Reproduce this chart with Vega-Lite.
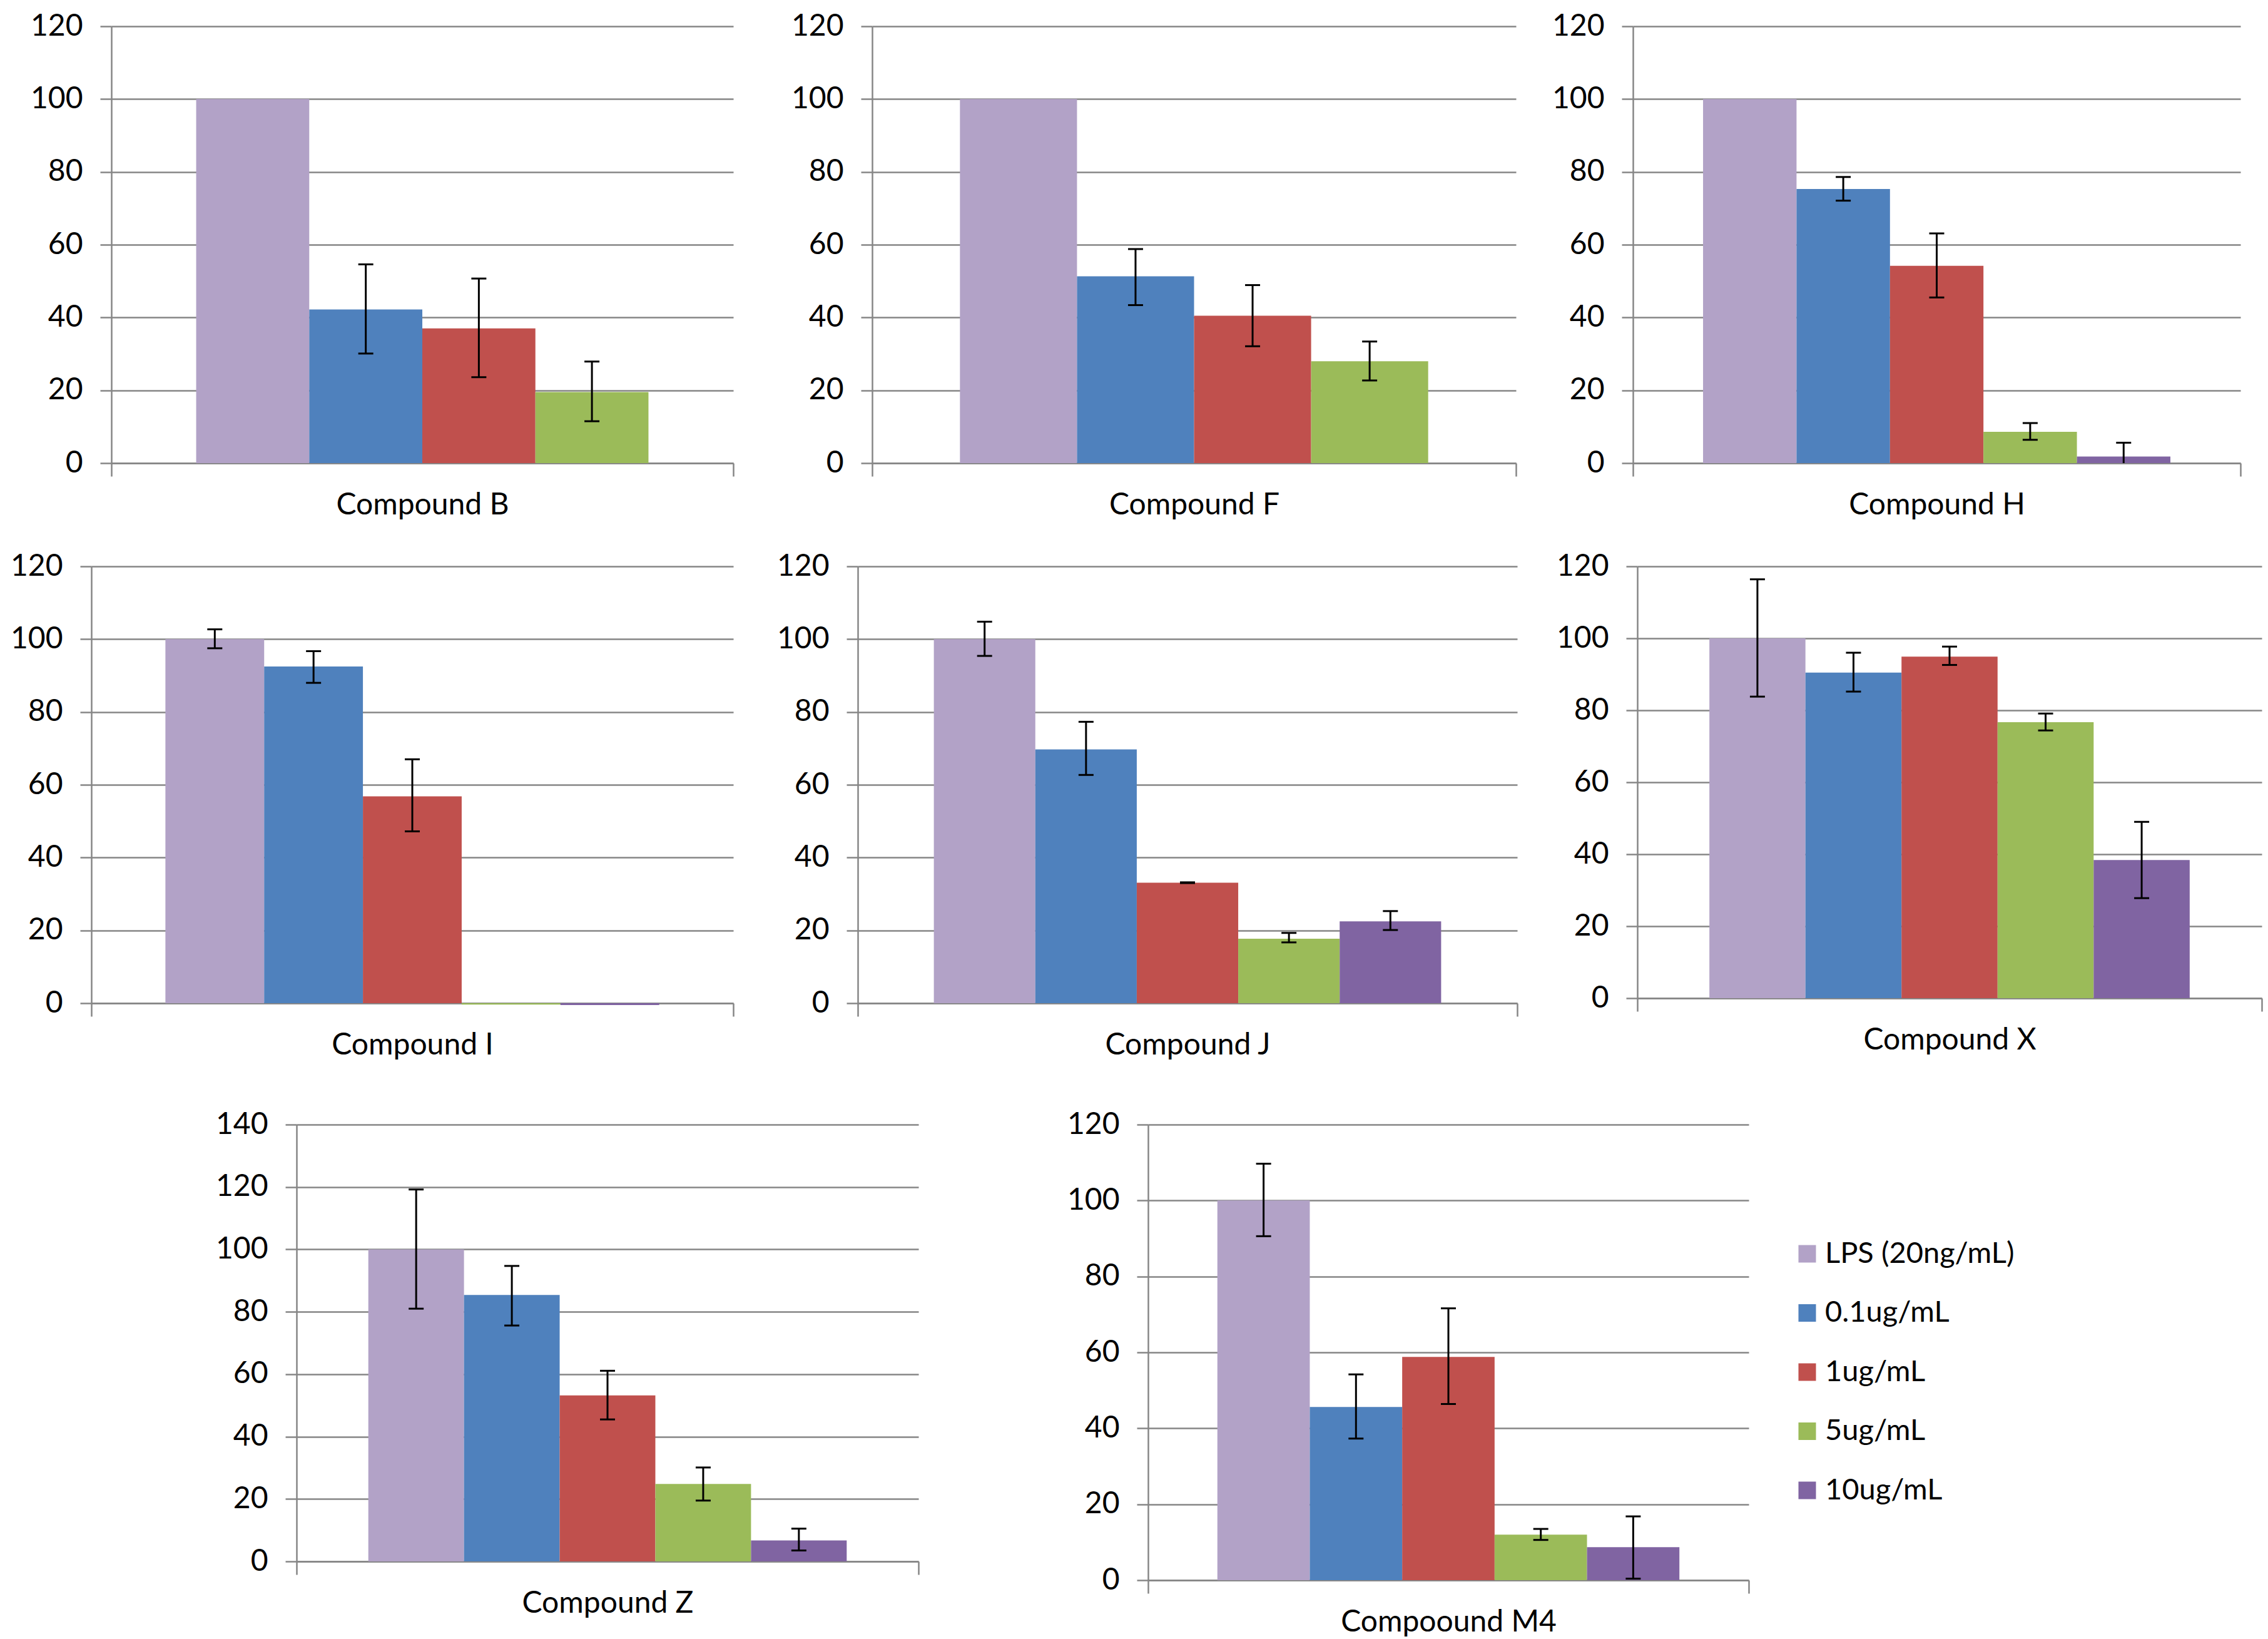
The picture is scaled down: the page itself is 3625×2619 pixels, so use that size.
{
  "$schema": "https://vega.github.io/schema/vega-lite/v6.json",
  "background": "white",
  "padding": {"left": 0, "top": 18, "right": 0, "bottom": 0},
  "config": {
    "view": {"stroke": null},
    "font": "Lato",
    "axis": {"labelFont": "Lato", "labelFontSize": 48, "labelColor": "#000000", "domainColor": "#868686", "tickColor": "#868686", "gridColor": "#868686", "domainWidth": 2.5, "tickWidth": 2.5, "gridWidth": 2.5, "ticks": true, "labelLimit": 1000},
    "axisY": {"tickSize": 18, "labelPadding": 28, "grid": true},
    "axisX": {"tickSize": 21, "labelPadding": 22, "grid": false, "tickBand": "extent", "labelAngle": 0},
    "legend": {"labelFont": "Lato", "labelFontSize": 47, "labelColor": "#000000", "symbolType": "square", "symbolSize": 784, "symbolStrokeWidth": 0, "labelOffset": 5, "rowPadding": 46.5, "padding": 0, "labelLimit": 1000},
    "concat": {"spacing": 0}
  },
  "datasets": {
    "d": [
      {"compound": "Compound B", "series": "LPS (20ng/mL)", "value": 100, "lo": null, "hi": null},
      {"compound": "Compound B", "series": "0.1ug/mL", "value": 42.2, "lo": 30.1, "hi": 54.6},
      {"compound": "Compound B", "series": "1ug/mL", "value": 37.0, "lo": 23.6, "hi": 50.7},
      {"compound": "Compound B", "series": "5ug/mL", "value": 19.5, "lo": 11.5, "hi": 27.9},
      {"compound": "Compound F", "series": "LPS (20ng/mL)", "value": 100, "lo": null, "hi": null},
      {"compound": "Compound F", "series": "0.1ug/mL", "value": 51.3, "lo": 43.4, "hi": 58.8},
      {"compound": "Compound F", "series": "1ug/mL", "value": 40.5, "lo": 32.1, "hi": 48.9},
      {"compound": "Compound F", "series": "5ug/mL", "value": 28.0, "lo": 22.7, "hi": 33.4},
      {"compound": "Compound H", "series": "LPS (20ng/mL)", "value": 100, "lo": null, "hi": null},
      {"compound": "Compound H", "series": "0.1ug/mL", "value": 75.3, "lo": 72.1, "hi": 78.6},
      {"compound": "Compound H", "series": "1ug/mL", "value": 54.2, "lo": 45.5, "hi": 63.1},
      {"compound": "Compound H", "series": "5ug/mL", "value": 8.6, "lo": 6.4, "hi": 11.0},
      {"compound": "Compound H", "series": "10ug/mL", "value": 1.8, "lo": -2.0, "hi": 5.6},
      {"compound": "Compound I", "series": "LPS (20ng/mL)", "value": 100, "lo": 97.5, "hi": 102.7},
      {"compound": "Compound I", "series": "0.1ug/mL", "value": 92.5, "lo": 88.0, "hi": 96.7},
      {"compound": "Compound I", "series": "1ug/mL", "value": 56.8, "lo": 47.2, "hi": 67.0},
      {"compound": "Compound I", "series": "5ug/mL", "value": -0.4, "lo": null, "hi": null},
      {"compound": "Compound I", "series": "10ug/mL", "value": -0.5, "lo": null, "hi": null},
      {"compound": "Compound J", "series": "LPS (20ng/mL)", "value": 100, "lo": 95.4, "hi": 104.8},
      {"compound": "Compound J", "series": "0.1ug/mL", "value": 69.7, "lo": 62.7, "hi": 77.3},
      {"compound": "Compound J", "series": "1ug/mL", "value": 33.1, "lo": 33.0, "hi": 33.2},
      {"compound": "Compound J", "series": "5ug/mL", "value": 17.7, "lo": 16.7, "hi": 19.3},
      {"compound": "Compound J", "series": "10ug/mL", "value": 22.5, "lo": 20.1, "hi": 25.3},
      {"compound": "Compound X", "series": "LPS (20ng/mL)", "value": 100, "lo": 83.8, "hi": 116.4},
      {"compound": "Compound X", "series": "0.1ug/mL", "value": 90.5, "lo": 85.2, "hi": 96.0},
      {"compound": "Compound X", "series": "1ug/mL", "value": 94.9, "lo": 92.6, "hi": 97.7},
      {"compound": "Compound X", "series": "5ug/mL", "value": 76.7, "lo": 74.4, "hi": 79.1},
      {"compound": "Compound X", "series": "10ug/mL", "value": 38.4, "lo": 27.8, "hi": 49.0},
      {"compound": "Compound Z", "series": "LPS (20ng/mL)", "value": 100, "lo": 81.0, "hi": 119.2},
      {"compound": "Compound Z", "series": "0.1ug/mL", "value": 85.4, "lo": 75.6, "hi": 94.7},
      {"compound": "Compound Z", "series": "1ug/mL", "value": 53.2, "lo": 45.5, "hi": 61.1},
      {"compound": "Compound Z", "series": "5ug/mL", "value": 24.8, "lo": 19.5, "hi": 30.1},
      {"compound": "Compound Z", "series": "10ug/mL", "value": 6.7, "lo": 3.5, "hi": 10.5},
      {"compound": "Compoound M4", "series": "LPS (20ng/mL)", "value": 100, "lo": 90.6, "hi": 109.7},
      {"compound": "Compoound M4", "series": "0.1ug/mL", "value": 45.6, "lo": 37.3, "hi": 54.2},
      {"compound": "Compoound M4", "series": "1ug/mL", "value": 58.8, "lo": 46.4, "hi": 71.6},
      {"compound": "Compoound M4", "series": "5ug/mL", "value": 12.0, "lo": 10.6, "hi": 13.5},
      {"compound": "Compoound M4", "series": "10ug/mL", "value": 8.7, "lo": 0.4, "hi": 16.8}
    ],
    "none": []
  },
  "data": {"name": "d"},
  "columns": 1,
  "align": "none",
  "resolve": {"scale": {"color": "independent", "xOffset": "independent", "x": "independent", "y": "independent"}},
  "spacing": 79,
  "concat": [
    {
      "columns": 1,
      "align": "none",
      "spacing": 50,
      "resolve": {"scale": {"color": "independent", "xOffset": "independent", "x": "independent", "y": "independent"}},
      "concat": [
        {
          "spacing": 0,
          "resolve": {"scale": {"color": "independent", "xOffset": "independent", "x": "independent", "y": "independent"}},
          "hconcat": [
            {"width": 1, "height": 1, "data": {"name": "none"}, "mark": {"type": "point", "opacity": 0}},
            {
              "width": 994, "height": 698,
              "transform": [{"filter": "datum.compound === 'Compound B'"}],
              "encoding": {
                "x": {"field": "compound", "type": "nominal", "title": null, "scale": {"paddingInner": 0, "paddingOuter": 0}},
                "xOffset": {"field": "series", "type": "nominal", "scale": {"domain": ["LPS (20ng/mL)", "0.1ug/mL", "1ug/mL", "5ug/mL"], "paddingInner": 0, "paddingOuter": 0.75}}
              },
              "layer": [
                {"mark": {"type": "bar"}, "encoding": {
                  "y": {"field": "value", "type": "quantitative", "title": null, "scale": {"domain": [0, 120], "nice": false}, "axis": {"values": [0, 20, 40, 60, 80, 100, 120], "minExtent": 177, "maxExtent": 177}},
                  "color": {"field": "series", "type": "nominal", "legend": null, "scale": {"domain": ["LPS (20ng/mL)", "0.1ug/mL", "1ug/mL", "5ug/mL", "10ug/mL"], "range": ["#B2A2C7", "#4F81BD", "#C0504D", "#9BBB59", "#8064A2"]}}}},
                {"transform": [{"filter": "isValid(datum.lo)"}], "mark": {"type": "rule", "clip": true, "color": "#000000", "strokeWidth": 3}, "encoding": {"y": {"field": "lo", "type": "quantitative"}, "y2": {"field": "hi"}}},
                {"transform": [{"filter": "isValid(datum.lo)"}], "mark": {"type": "tick", "clip": true, "orient": "horizontal", "size": 24, "thickness": 3, "color": "#000000", "opacity": 1}, "encoding": {"y": {"field": "lo", "type": "quantitative"}}},
                {"transform": [{"filter": "isValid(datum.hi)"}], "mark": {"type": "tick", "clip": true, "orient": "horizontal", "size": 24, "thickness": 3, "color": "#000000", "opacity": 1}, "encoding": {"y": {"field": "hi", "type": "quantitative"}}}
              ]
            },
            {
              "width": 1029, "height": 698,
              "transform": [{"filter": "datum.compound === 'Compound F'"}],
              "encoding": {
                "x": {"field": "compound", "type": "nominal", "title": null, "scale": {"paddingInner": 0, "paddingOuter": 0}},
                "xOffset": {"field": "series", "type": "nominal", "scale": {"domain": ["LPS (20ng/mL)", "0.1ug/mL", "1ug/mL", "5ug/mL"], "paddingInner": 0, "paddingOuter": 0.75}}
              },
              "layer": [
                {"mark": {"type": "bar"}, "encoding": {
                  "y": {"field": "value", "type": "quantitative", "title": null, "scale": {"domain": [0, 120], "nice": false}, "axis": {"values": [0, 20, 40, 60, 80, 100, 120], "minExtent": 220, "maxExtent": 220}},
                  "color": {"field": "series", "type": "nominal", "legend": null, "scale": {"domain": ["LPS (20ng/mL)", "0.1ug/mL", "1ug/mL", "5ug/mL", "10ug/mL"], "range": ["#B2A2C7", "#4F81BD", "#C0504D", "#9BBB59", "#8064A2"]}}}},
                {"transform": [{"filter": "isValid(datum.lo)"}], "mark": {"type": "rule", "clip": true, "color": "#000000", "strokeWidth": 3}, "encoding": {"y": {"field": "lo", "type": "quantitative"}, "y2": {"field": "hi"}}},
                {"transform": [{"filter": "isValid(datum.lo)"}], "mark": {"type": "tick", "clip": true, "orient": "horizontal", "size": 24, "thickness": 3, "color": "#000000", "opacity": 1}, "encoding": {"y": {"field": "lo", "type": "quantitative"}}},
                {"transform": [{"filter": "isValid(datum.hi)"}], "mark": {"type": "tick", "clip": true, "orient": "horizontal", "size": 24, "thickness": 3, "color": "#000000", "opacity": 1}, "encoding": {"y": {"field": "hi", "type": "quantitative"}}}
              ]
            },
            {
              "width": 971, "height": 698,
              "transform": [{"filter": "datum.compound === 'Compound H'"}],
              "encoding": {
                "x": {"field": "compound", "type": "nominal", "title": null, "scale": {"paddingInner": 0, "paddingOuter": 0}},
                "xOffset": {"field": "series", "type": "nominal", "scale": {"domain": ["LPS (20ng/mL)", "0.1ug/mL", "1ug/mL", "5ug/mL", "10ug/mL"], "paddingInner": 0, "paddingOuter": 0.75}}
              },
              "layer": [
                {"mark": {"type": "bar"}, "encoding": {
                  "y": {"field": "value", "type": "quantitative", "title": null, "scale": {"domain": [0, 120], "nice": false}, "axis": {"values": [0, 20, 40, 60, 80, 100, 120], "minExtent": 185, "maxExtent": 185}},
                  "color": {"field": "series", "type": "nominal", "legend": null, "scale": {"domain": ["LPS (20ng/mL)", "0.1ug/mL", "1ug/mL", "5ug/mL", "10ug/mL"], "range": ["#B2A2C7", "#4F81BD", "#C0504D", "#9BBB59", "#8064A2"]}}}},
                {"transform": [{"filter": "isValid(datum.lo)"}], "mark": {"type": "rule", "clip": true, "color": "#000000", "strokeWidth": 3}, "encoding": {"y": {"field": "lo", "type": "quantitative"}, "y2": {"field": "hi"}}},
                {"transform": [{"filter": "isValid(datum.lo)"}], "mark": {"type": "tick", "clip": true, "orient": "horizontal", "size": 24, "thickness": 3, "color": "#000000", "opacity": 1}, "encoding": {"y": {"field": "lo", "type": "quantitative"}}},
                {"transform": [{"filter": "isValid(datum.hi)"}], "mark": {"type": "tick", "clip": true, "orient": "horizontal", "size": 24, "thickness": 3, "color": "#000000", "opacity": 1}, "encoding": {"y": {"field": "hi", "type": "quantitative"}}}
              ]
            }
          ]
        },
        {
          "spacing": 0,
          "resolve": {"scale": {"color": "independent", "xOffset": "independent", "x": "independent", "y": "independent"}},
          "hconcat": [
            {"width": 1, "height": 1, "data": {"name": "none"}, "mark": {"type": "point", "opacity": 0}},
            {
              "width": 1026, "height": 698,
              "transform": [{"filter": "datum.compound === 'Compound I'"}],
              "encoding": {
                "x": {"field": "compound", "type": "nominal", "title": null, "scale": {"paddingInner": 0, "paddingOuter": 0}},
                "xOffset": {"field": "series", "type": "nominal", "scale": {"domain": ["LPS (20ng/mL)", "0.1ug/mL", "1ug/mL", "5ug/mL", "10ug/mL"], "paddingInner": 0, "paddingOuter": 0.75}}
              },
              "layer": [
                {"mark": {"type": "bar"}, "encoding": {
                  "y": {"field": "value", "type": "quantitative", "title": null, "scale": {"domain": [0, 120], "nice": false}, "axis": {"values": [0, 20, 40, 60, 80, 100, 120], "minExtent": 145, "maxExtent": 145}},
                  "color": {"field": "series", "type": "nominal", "legend": null, "scale": {"domain": ["LPS (20ng/mL)", "0.1ug/mL", "1ug/mL", "5ug/mL", "10ug/mL"], "range": ["#B2A2C7", "#4F81BD", "#C0504D", "#9BBB59", "#8064A2"]}}}},
                {"transform": [{"filter": "isValid(datum.lo)"}], "mark": {"type": "rule", "clip": true, "color": "#000000", "strokeWidth": 3}, "encoding": {"y": {"field": "lo", "type": "quantitative"}, "y2": {"field": "hi"}}},
                {"transform": [{"filter": "isValid(datum.lo)"}], "mark": {"type": "tick", "clip": true, "orient": "horizontal", "size": 24, "thickness": 3, "color": "#000000", "opacity": 1}, "encoding": {"y": {"field": "lo", "type": "quantitative"}}},
                {"transform": [{"filter": "isValid(datum.hi)"}], "mark": {"type": "tick", "clip": true, "orient": "horizontal", "size": 24, "thickness": 3, "color": "#000000", "opacity": 1}, "encoding": {"y": {"field": "hi", "type": "quantitative"}}}
              ]
            },
            {
              "width": 1054, "height": 698,
              "transform": [{"filter": "datum.compound === 'Compound J'"}],
              "encoding": {
                "x": {"field": "compound", "type": "nominal", "title": null, "scale": {"paddingInner": 0, "paddingOuter": 0}},
                "xOffset": {"field": "series", "type": "nominal", "scale": {"domain": ["LPS (20ng/mL)", "0.1ug/mL", "1ug/mL", "5ug/mL", "10ug/mL"], "paddingInner": 0, "paddingOuter": 0.75}}
              },
              "layer": [
                {"mark": {"type": "bar"}, "encoding": {
                  "y": {"field": "value", "type": "quantitative", "title": null, "scale": {"domain": [0, 120], "nice": false}, "axis": {"values": [0, 20, 40, 60, 80, 100, 120], "minExtent": 197, "maxExtent": 197}},
                  "color": {"field": "series", "type": "nominal", "legend": null, "scale": {"domain": ["LPS (20ng/mL)", "0.1ug/mL", "1ug/mL", "5ug/mL", "10ug/mL"], "range": ["#B2A2C7", "#4F81BD", "#C0504D", "#9BBB59", "#8064A2"]}}}},
                {"transform": [{"filter": "isValid(datum.lo)"}], "mark": {"type": "rule", "clip": true, "color": "#000000", "strokeWidth": 3}, "encoding": {"y": {"field": "lo", "type": "quantitative"}, "y2": {"field": "hi"}}},
                {"transform": [{"filter": "isValid(datum.lo)"}], "mark": {"type": "tick", "clip": true, "orient": "horizontal", "size": 24, "thickness": 3, "color": "#000000", "opacity": 1}, "encoding": {"y": {"field": "lo", "type": "quantitative"}}},
                {"transform": [{"filter": "isValid(datum.hi)"}], "mark": {"type": "tick", "clip": true, "orient": "horizontal", "size": 24, "thickness": 3, "color": "#000000", "opacity": 1}, "encoding": {"y": {"field": "hi", "type": "quantitative"}}}
              ]
            },
            {
              "width": 998, "height": 690,
              "transform": [{"filter": "datum.compound === 'Compound X'"}],
              "encoding": {
                "x": {"field": "compound", "type": "nominal", "title": null, "scale": {"paddingInner": 0, "paddingOuter": 0}},
                "xOffset": {"field": "series", "type": "nominal", "scale": {"domain": ["LPS (20ng/mL)", "0.1ug/mL", "1ug/mL", "5ug/mL", "10ug/mL"], "paddingInner": 0, "paddingOuter": 0.75}}
              },
              "layer": [
                {"mark": {"type": "bar"}, "encoding": {
                  "y": {"field": "value", "type": "quantitative", "title": null, "scale": {"domain": [0, 120], "nice": false}, "axis": {"values": [0, 20, 40, 60, 80, 100, 120], "minExtent": 190, "maxExtent": 190}},
                  "color": {"field": "series", "type": "nominal", "legend": null, "scale": {"domain": ["LPS (20ng/mL)", "0.1ug/mL", "1ug/mL", "5ug/mL", "10ug/mL"], "range": ["#B2A2C7", "#4F81BD", "#C0504D", "#9BBB59", "#8064A2"]}}}},
                {"transform": [{"filter": "isValid(datum.lo)"}], "mark": {"type": "rule", "clip": true, "color": "#000000", "strokeWidth": 3}, "encoding": {"y": {"field": "lo", "type": "quantitative"}, "y2": {"field": "hi"}}},
                {"transform": [{"filter": "isValid(datum.lo)"}], "mark": {"type": "tick", "clip": true, "orient": "horizontal", "size": 24, "thickness": 3, "color": "#000000", "opacity": 1}, "encoding": {"y": {"field": "lo", "type": "quantitative"}}},
                {"transform": [{"filter": "isValid(datum.hi)"}], "mark": {"type": "tick", "clip": true, "orient": "horizontal", "size": 24, "thickness": 3, "color": "#000000", "opacity": 1}, "encoding": {"y": {"field": "hi", "type": "quantitative"}}}
              ]
            }
          ]
        }
      ]
    },
    {
      "spacing": 0,
      "resolve": {"scale": {"color": "independent", "xOffset": "independent", "x": "independent", "y": "independent"}},
      "hconcat": [
        {"width": 1, "height": 1, "data": {"name": "none"}, "mark": {"type": "point", "opacity": 0}},
        {
          "width": 994, "height": 698,
          "transform": [{"filter": "datum.compound === 'Compound Z'"}],
          "encoding": {
            "x": {"field": "compound", "type": "nominal", "title": null, "scale": {"paddingInner": 0, "paddingOuter": 0}},
            "xOffset": {"field": "series", "type": "nominal", "scale": {"domain": ["LPS (20ng/mL)", "0.1ug/mL", "1ug/mL", "5ug/mL", "10ug/mL"], "paddingInner": 0, "paddingOuter": 0.75}}
          },
          "layer": [
            {"mark": {"type": "bar"}, "encoding": {
              "y": {"field": "value", "type": "quantitative", "title": null, "scale": {"domain": [0, 140], "nice": false}, "axis": {"values": [0, 20, 40, 60, 80, 100, 120, 140], "minExtent": 473, "maxExtent": 473}},
              "color": {"field": "series", "type": "nominal", "legend": null, "scale": {"domain": ["LPS (20ng/mL)", "0.1ug/mL", "1ug/mL", "5ug/mL", "10ug/mL"], "range": ["#B2A2C7", "#4F81BD", "#C0504D", "#9BBB59", "#8064A2"]}}}},
            {"transform": [{"filter": "isValid(datum.lo)"}], "mark": {"type": "rule", "clip": true, "color": "#000000", "strokeWidth": 3}, "encoding": {"y": {"field": "lo", "type": "quantitative"}, "y2": {"field": "hi"}}},
            {"transform": [{"filter": "isValid(datum.lo)"}], "mark": {"type": "tick", "clip": true, "orient": "horizontal", "size": 24, "thickness": 3, "color": "#000000", "opacity": 1}, "encoding": {"y": {"field": "lo", "type": "quantitative"}}},
            {"transform": [{"filter": "isValid(datum.hi)"}], "mark": {"type": "tick", "clip": true, "orient": "horizontal", "size": 24, "thickness": 3, "color": "#000000", "opacity": 1}, "encoding": {"y": {"field": "hi", "type": "quantitative"}}}
          ]
        },
        {
          "width": 960, "height": 728,
          "transform": [{"filter": "datum.compound === 'Compoound M4'"}],
          "encoding": {
            "x": {"field": "compound", "type": "nominal", "title": null, "scale": {"paddingInner": 0, "paddingOuter": 0}},
            "xOffset": {"field": "series", "type": "nominal", "scale": {"domain": ["LPS (20ng/mL)", "0.1ug/mL", "1ug/mL", "5ug/mL", "10ug/mL"], "paddingInner": 0, "paddingOuter": 0.75}}
          },
          "layer": [
            {"mark": {"type": "bar"}, "encoding": {
              "y": {"field": "value", "type": "quantitative", "title": null, "scale": {"domain": [0, 120], "nice": false}, "axis": {"values": [0, 20, 40, 60, 80, 100, 120], "minExtent": 365, "maxExtent": 365}},
              "color": {"field": "series", "type": "nominal", "title": null, "legend": {"orient": "none", "legendX": 1030, "legendY": 183}, "scale": {"domain": ["LPS (20ng/mL)", "0.1ug/mL", "1ug/mL", "5ug/mL", "10ug/mL"], "range": ["#B2A2C7", "#4F81BD", "#C0504D", "#9BBB59", "#8064A2"]}}}},
            {"transform": [{"filter": "isValid(datum.lo)"}], "mark": {"type": "rule", "clip": true, "color": "#000000", "strokeWidth": 3}, "encoding": {"y": {"field": "lo", "type": "quantitative"}, "y2": {"field": "hi"}}},
            {"transform": [{"filter": "isValid(datum.lo)"}], "mark": {"type": "tick", "clip": true, "orient": "horizontal", "size": 24, "thickness": 3, "color": "#000000", "opacity": 1}, "encoding": {"y": {"field": "lo", "type": "quantitative"}}},
            {"transform": [{"filter": "isValid(datum.hi)"}], "mark": {"type": "tick", "clip": true, "orient": "horizontal", "size": 24, "thickness": 3, "color": "#000000", "opacity": 1}, "encoding": {"y": {"field": "hi", "type": "quantitative"}}}
          ]
        }
      ]
    }
  ]
}
